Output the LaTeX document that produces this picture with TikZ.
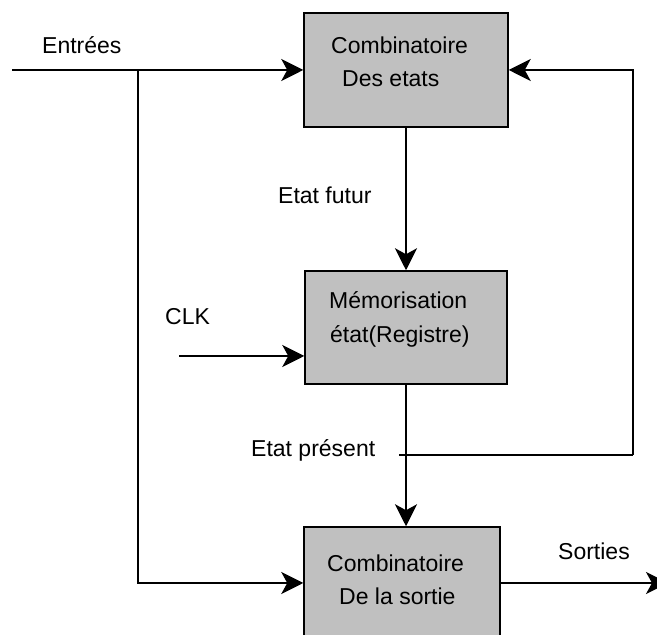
\documentclass[tikz,border=0pt]{standalone}
\usepackage{fontspec}
\setmainfont{Liberation Sans}
\usetikzlibrary{arrows.meta}
\definecolor{blockgray}{RGB}{192,192,192}
\begin{document}
\begin{tikzpicture}[x=1pt,y=1pt,
  block/.style={draw=black, line width=1.5pt, fill=blockgray, inner sep=0pt},
  lbl/.style={anchor=base west, inner sep=0pt, font=\fontsize{23}{28}\selectfont},
  wire/.style={line width=1.5pt},
  flow/.style={wire, -{Stealth[length=22pt,width=22pt,inset=6pt]}}]
\useasboundingbox (0,0) rectangle (657,635);

% blocks
\node[block, minimum width=204pt, minimum height=114pt] (comb1) at (406,565) {};
\node[block, minimum width=202pt, minimum height=113pt] (mem)   at (406,307.5) {};
\node[block, minimum width=196pt, minimum height=112pt] (comb2) at (402,52) {};

% block texts
\node[lbl] (t1a) at (331,581) {Combinatoire};
\node[lbl] (t1b) at (342,548) {Des etats};
\node[lbl] (t2a) at (329,326) {Mémorisation};
\node[lbl] (t2b) at (330,292) {état(Registre)};
\node[lbl] (t3a) at (327,63) {Combinatoire};
\node[lbl] (t3b) at (339,30) {De la sortie};

% signal labels
\node[lbl] (lin)  at (42,581)  {Entrées};
\node[lbl] (lfut) at (278,431) {Etat futur};
\node[lbl] (lclk) at (165,310) {CLK};
\node[lbl] (lpre) at (251,178) {Etat présent};
\node[lbl] (lout) at (558,75)  {Sorties};

% wire end points
\coordinate (inL)  at (12,565);
\coordinate (br)   at (138,565);
\coordinate (clk)  at (179,279);
\coordinate (fbL)  at (399,180);
\coordinate (fbR)  at (633,180);
\coordinate (outR) at (668,52);

% inputs
\draw[flow] (inL) -- (comb1.west);
\draw[flow] (br) -- (br |- comb2.west) -- (comb2.west);

% state path
\draw[flow] (comb1.south) -- (comb1.south |- mem.north);
\draw[flow] (clk) -- (clk -| mem.west);
\draw[flow] (mem.south) -- (mem.south |- comb2.north);

% feedback of present state
\draw[wire] (fbL) -- (fbR);
\draw[flow] (fbR) -- (fbR |- comb1.east) -- (comb1.east);

% output
\draw[flow] (comb2.east) -- (outR);
\end{tikzpicture}
\end{document}
